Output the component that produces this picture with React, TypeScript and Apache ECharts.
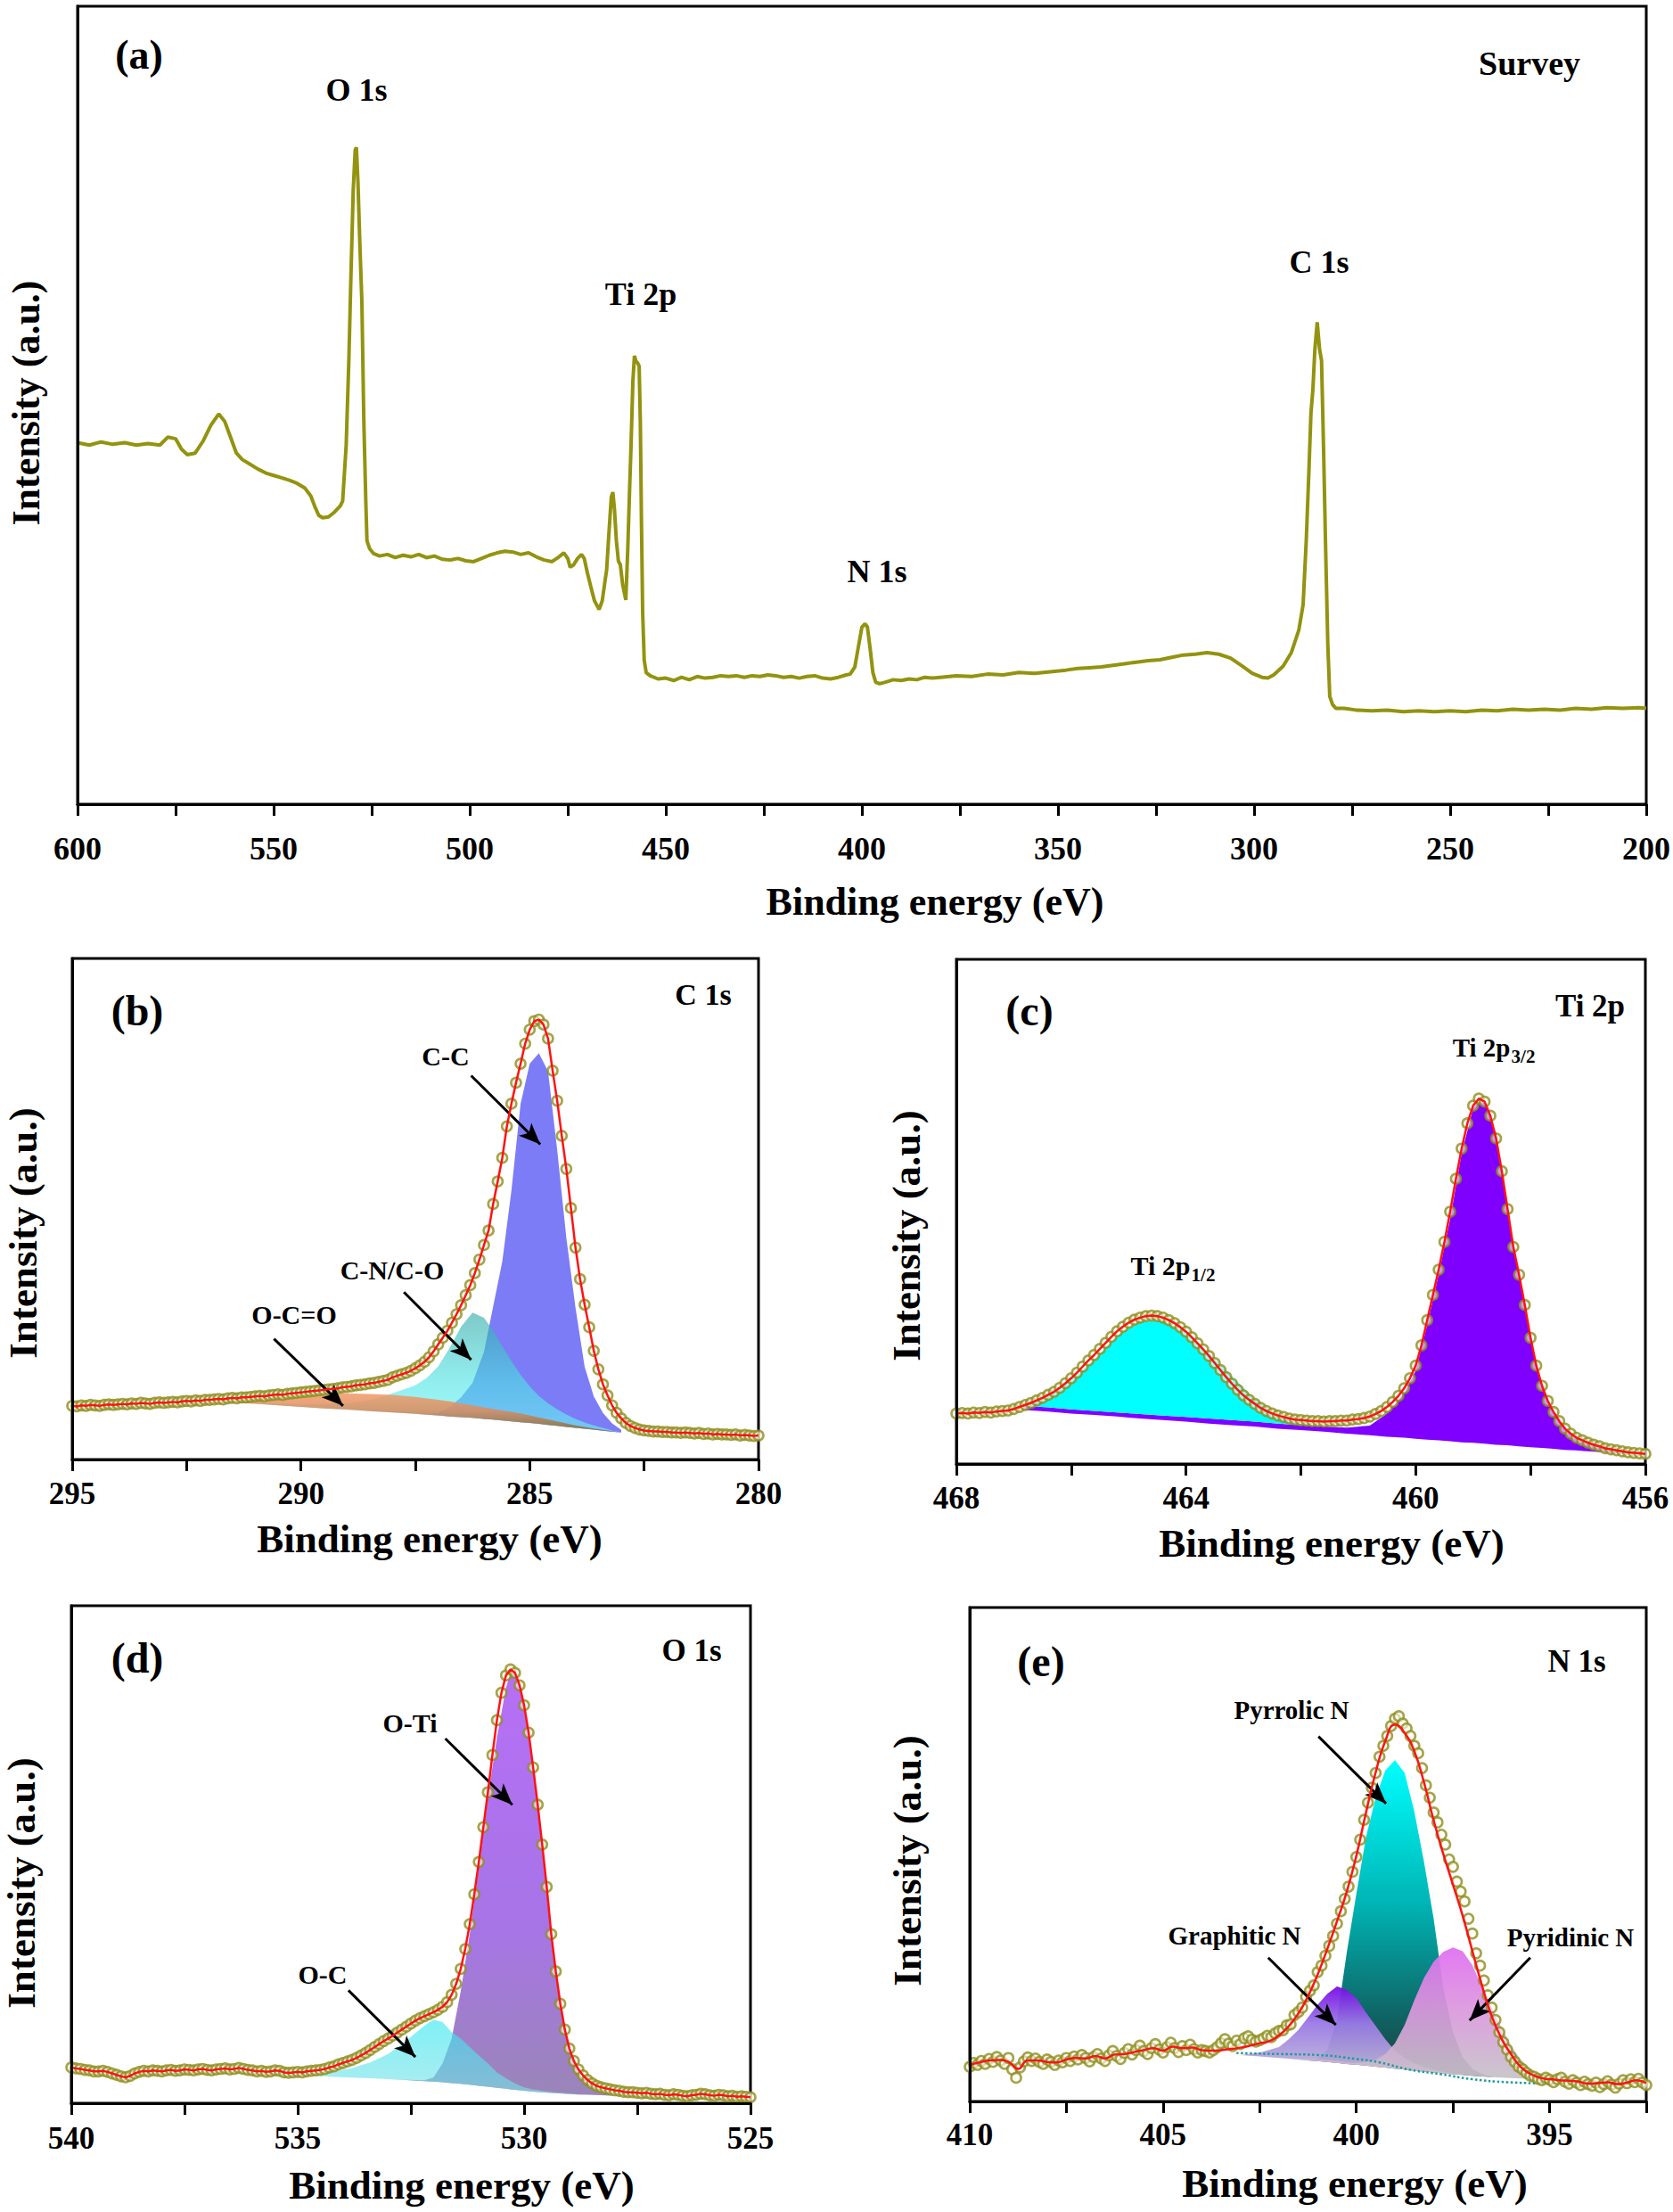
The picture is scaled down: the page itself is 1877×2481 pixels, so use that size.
import React, { useEffect, useRef } from 'react';
import * as echarts from 'echarts';

// ---------------- (a) Survey ----------------
const surveyEnergy = [600,597,594,591,588,585,582,579,577,575,573.5,572,570,568,566,564,562.5,561,559.5,558,556,554,552,550,548,546,544,542,540.5,539.5,538.5,537.5,536,534.5,533,532.4,531.5,530.8,530.3,529.7,529.2,528.9,528.5,528,527.5,527,526.5,526.2,525.5,524.5,523,521,519,517,515,513,511,509,507,505,503,501,499,497,495,493,491,489,487,485,483,481,479,477.5,476,475,474.4,473.5,472.5,471.5,470.8,470,469.2,468.2,467,466.2,465.5,465.1,464.5,463.9,463.5,463.1,462.6,462.1,461.6,461,460.2,459.7,459.2,458.9,458.4,458,457.6,457.2,456.8,456.5,456.2,455.9,455.5,455,454,452,450,448,446,444,442,440,438,436,434,432,430,428,426,424,422,420,418,416,414,412,410,408,406,404,403,401.8,400.8,400,399.2,398.6,397.9,397.2,396.5,395.5,394,392,390,388,386,384,382,380,376,372,368,364,360,356,352,348,345,342,339,336,333,330,327,324,321,318,315,312,309,306,303,300.5,298,296.5,295,292.6,290.5,288.6,287.5,286.7,286,285.5,285,284.5,283.9,283.3,282.8,282.3,281.8,281.2,280.7,280,279.1,277,274,270,266,262,258,254,250,246,242,238,234,230,226,222,218,214,210,206,202,200];
const surveyIntensity = [45.3,45.0,45.4,45.1,45.3,45.0,45.2,45.0,46.0,45.8,44.5,43.8,44.0,45.5,47.5,48.9,48.0,46.0,44.0,43.2,42.6,42.0,41.5,41.2,40.9,40.6,40.2,39.6,38.6,37.3,36.2,35.9,36.0,36.6,37.4,38.0,45,56,66,77,82,82.3,78,70,63,48,38,33,32,31.4,31.1,31.3,30.9,31.2,31.0,31.3,30.9,31.1,30.7,30.6,30.8,30.5,30.4,30.8,31.2,31.5,31.7,31.6,31.3,31.5,31.0,30.6,30.4,30.9,31.5,30.8,29.7,30.0,30.8,31.3,30.8,29.0,27.4,25.5,24.4,25.5,28,29.3,34,38.5,39.1,37,33,30.5,30.0,27.5,25.6,32,40,44.4,53,56.2,55.5,55.3,54.9,48,35,24,18,16.5,16.1,15.7,15.8,15.5,15.9,15.6,16.0,15.8,15.9,16.1,16.0,16.1,15.9,16.1,16.0,16.2,16.1,15.9,16.0,15.8,16.0,16.1,15.8,15.7,15.9,16.2,16.3,17.2,20.0,22.2,22.6,22.2,19.5,16.5,15.3,15.1,15.3,15.6,15.5,15.7,15.6,15.9,15.8,15.9,16.1,16.0,16.3,16.2,16.5,16.4,16.6,16.8,17.0,17.1,17.2,17.4,17.6,17.8,18.0,18.1,18.4,18.7,18.8,19.0,18.8,18.3,17.3,16.4,15.9,15.8,16.2,17.3,19.0,21.8,25,33,42,49,52,57,60.4,57,55.6,45,33,20,13.5,12.5,12.0,12.0,11.8,11.7,11.8,11.6,11.7,11.6,11.7,11.6,11.8,11.7,11.9,11.8,11.9,11.8,12.0,11.9,12.1,12.0,12.1,12.0];

// ---------------- (b) C 1s ----------------
const c1sStart = 295, c1sStep = 0.1;
const c1sExp = [
10.7,10.6,10.8,10.7,10.9,10.8,10.7,10.9,11.0,10.9,
11.0,11.1,11.0,11.2,11.1,11.3,11.2,11.1,11.3,11.4,
11.3,11.4,11.5,11.4,11.6,11.7,11.6,11.8,11.7,11.9,
11.9,12.0,12.1,12.0,12.2,12.3,12.2,12.4,12.4,12.5,
12.6,12.7,12.6,12.8,12.9,13.0,12.9,13.1,13.2,13.3,
13.4,13.5,13.6,13.7,13.8,13.9,14.0,14.1,14.2,14.4,
14.5,14.6,14.8,14.9,15.0,15.2,15.3,15.5,15.7,15.9,
16.4,16.7,17.0,17.3,17.7,18.2,18.8,19.5,20.4,21.6,
23.0,24.3,25.7,27.3,29.0,30.8,32.8,34.8,37.2,39.9,
42.8,45.7,51.0,55.5,60.2,66.5,71.0,75.2,79.0,83.0,
85.8,87.5,87.8,86.8,84.0,77.6,71.6,64.6,58.0,50.2,
42.3,36.0,30.9,26.4,21.7,18.0,15.0,12.8,10.8,9.3,
8.2,7.3,6.7,6.3,6.0,5.8,5.7,5.6,5.6,5.5,
5.5,5.4,5.4,5.3,5.4,5.3,5.2,5.3,5.1,5.2,
5.0,5.1,5.0,5.0,4.9,5.0,4.8,4.9,4.8,4.7,
4.8];
const c1sCompX = [292,291.5,291,290.5,290,289.5,289,288.5,288,287.5,287.25,287,286.75,286.5,286.25,286,285.8,285.6,285.4,285.2,285,284.8,284.6,284.4,284.2,284,283.8,283.6,283.4,283.2,283];
const c1sBase = [11.7,11.4,11.1,10.8,10.5,10.2,9.95,9.65,9.4,9.1,8.95,8.8,8.6,8.45,8.3,8.1,7.95,7.8,7.6,7.45,7.3,7.1,6.9,6.7,6.5,6.3,6.15,5.95,5.75,5.55,5.4];
const c1sCC = [11.7,11.4,11.1,10.8,10.5,10.2,9.95,9.65,9.4,9.1,9.0,9.3,10.5,12.4,15.3,21.5,30.5,39.5,53.7,71.0,79.0,81.1,77.5,61.8,44.2,30.3,18.5,12.6,9.3,7.2,5.9];
const c1sCN = [11.7,11.45,11.25,11.1,11.0,11.0,11.2,11.8,13.2,14.8,16.3,18.6,22.3,26.5,29.3,28.3,25.7,22.6,19.6,16.9,14.6,12.7,11.2,10.0,9.0,8.1,7.4,6.8,6.3,5.8,5.4];
const c1sOCO = [11.7,12.1,12.5,12.8,13.0,13.2,13.2,13.1,12.9,12.5,12.2,11.9,11.6,11.2,10.8,10.4,10.1,9.8,9.5,9.2,8.8,8.4,8.0,7.6,7.2,6.8,6.5,6.2,5.9,5.65,5.4];
const c1sArrows = [[[286.28,76.6],[284.77,62.9]],[[287.75,33.4],[286.28,19.9]],[[290.59,24.1],[289.08,10.7]]];

// ---------------- (c) Ti 2p ----------------
const ti2pStart = 468, ti2pStep = 0.1;
const ti2pExp = [
10.0,10.1,10.0,10.2,10.1,10.3,10.2,10.4,10.5,10.6,
10.9,11.3,11.7,12.1,12.6,13.1,13.7,14.3,15.1,16.0,
17.0,18.1,19.3,20.5,21.6,22.8,24.0,25.2,26.3,27.2,
28.0,28.6,29.0,29.3,29.4,29.3,29.0,28.5,27.9,27.1,
26.2,25.1,23.9,22.7,21.4,20.0,18.6,17.2,15.9,14.7,
13.6,12.7,11.9,11.1,10.5,10.0,9.6,9.3,9.0,8.8,
8.7,8.6,8.5,8.5,8.4,8.5,8.5,8.6,8.6,8.8,
8.9,9.1,9.4,9.9,10.5,11.3,12.3,13.5,15.0,17.0,
19.5,23.5,28.5,33.5,38.5,44.0,50.0,56.5,62.5,67.5,
71.0,72.4,71.8,69.0,64.5,58.0,50.5,43.0,37.5,31.5,
25.0,19.5,15.5,12.5,10.3,8.5,7.0,6.0,5.2,4.7,
4.2,3.8,3.5,3.1,2.9,2.7,2.5,2.3,2.2,2.1,
2.0];
const ti2pCompX = [466.8,466.4,466.0,465.6,465.2,464.8,464.4,464.0,463.6,463.2,462.8,462.4,462.0,461.6,461.2,460.8,460.5,460.2,460.0,459.8,459.6,459.4,459.2,459.0,458.9,458.8,458.6,458.4,458.2,458.0,457.8,457.6,457.4,457.2,457.0,456.6,456.3];
const ti2pBase = [10.7,10.4,10.0,9.7,9.4,9.0,8.7,8.4,8.0,7.7,7.4,7.0,6.7,6.4,6.0,5.7,5.4,5.2,5.0,4.8,4.7,4.5,4.3,4.2,4.1,4.0,3.8,3.7,3.5,3.3,3.2,3.0,2.8,2.7,2.5,2.2,2.0];
const ti2p32 = [11.5,11.2,10.8,10.5,10.2,9.9,9.6,9.3,9.0,8.7,8.4,8.0,7.7,7.4,7.2,7.6,10.0,14.0,18.5,27.5,37.5,48.5,61.5,70.5,71.8,71.5,65.5,50.5,37.5,24.5,15.2,10.3,6.8,5.0,4.0,2.8,2.2];
const ti2p12X = [466.8,466.4,466.0,465.6,465.2,464.8,464.4,464.0,463.6,463.2,462.8,462.4,462.0,461.6];
const ti2p12 = [11.5,13.6,16.7,20.7,25.4,28.2,28.4,26.2,22.0,17.3,12.8,9.4,7.9,7.4];
const ti2p12Bottom = [11.5,11.2,10.8,10.5,10.2,9.9,9.6,9.3,9.0,8.7,8.4,8.0,7.7,7.4];

// ---------------- (d) O 1s ----------------
const o1sStart = 540, o1sStep = 0.1;
const o1sExp = [
7.2,7.0,6.9,6.7,6.6,6.4,6.4,6.5,6.3,6.0,
5.7,5.4,5.2,5.5,6.0,6.3,6.5,6.4,6.6,6.5,
6.4,6.6,6.7,6.5,6.6,6.8,6.7,6.6,6.8,6.9,
6.7,6.6,6.8,6.9,7.0,6.8,6.9,7.1,6.9,6.7,
6.6,6.4,6.5,6.3,6.4,6.6,6.5,6.2,6.1,6.2,
6.3,6.2,6.4,6.5,6.6,6.7,6.9,7.2,7.4,7.8,
8.1,8.4,8.7,9.1,9.6,10.1,10.7,11.3,11.9,12.5,
13.0,13.6,14.2,14.8,15.4,16.0,16.6,17.1,17.5,17.9,
18.3,18.8,19.4,20.3,21.8,24.0,27.0,31.0,36.0,42.0,
48.5,55.5,62.5,70.0,77.0,82.5,86.0,87.2,86.5,84.0,
80.0,74.5,67.5,60.0,52.0,43.5,34.0,26.5,20.0,14.8,
11.0,8.5,6.8,5.6,4.7,4.0,3.5,3.2,3.0,2.8,
2.6,2.5,2.3,2.2,2.2,2.1,2.0,2.1,1.9,1.8,
1.9,1.7,1.6,1.8,1.7,1.5,1.4,1.6,1.7,1.9,
1.8,1.6,1.5,1.7,1.6,1.4,1.5,1.3,1.4,1.3,
1.2];
const o1sCompX = [535.0,534.6,534.2,533.8,533.4,533.0,532.6,532.2,532.0,531.8,531.6,531.4,531.2,531.0,530.8,530.6,530.4,530.3,530.2,530.0,529.8,529.6,529.4,529.2,529.0,528.8,528.6,528.3,528.0];
const o1sBase = [5.6,5.5,5.3,5.15,5.0,4.85,4.65,4.45,4.35,4.2,4.05,3.9,3.7,3.5,3.3,3.1,2.9,2.8,2.7,2.5,2.35,2.2,2.05,1.95,1.85,1.75,1.7,1.6,1.5];
const o1sOTi = [5.6,5.5,5.3,5.15,5.0,4.85,4.7,4.6,5.2,8.0,13.0,22.5,34.0,47.5,61.5,73.5,83.5,86.5,86.3,80.0,67.0,51.5,34.0,19.5,10.5,6.0,3.9,2.3,1.5];
const o1sOC = [5.6,5.9,6.4,7.1,8.2,9.9,12.6,15.6,16.8,16.3,14.3,13.0,11.3,9.6,8.0,6.2,5.0,4.5,4.0,3.2,2.8,2.5,2.3,2.1,1.95,1.8,1.7,1.6,1.5];
const o1sArrows = [[[531.74,73.3],[530.26,60.0]],[[533.88,22.7],[532.4,9.3]]];

// ---------------- (e) N 1s ----------------
const n1sStart = 410, n1sStep = 0.1;
const n1sExp = [
7.0,7.8,7.4,8.2,7.6,8.6,8.0,9.0,8.3,7.6,
8.8,6.5,4.8,6.9,8.1,8.9,8.2,8.7,8.0,7.6,
8.5,8.0,7.4,8.3,7.9,8.8,8.2,9.1,8.5,9.4,
8.8,8.1,9.0,9.6,8.7,8.2,9.3,10.2,9.2,8.6,
9.8,10.6,9.5,10.4,11.3,10.2,9.6,10.8,11.6,10.5,
9.9,11.0,11.9,10.8,10.0,11.2,10.4,11.5,10.6,9.9,
10.4,10.2,9.9,10.4,11.0,11.8,12.6,11.7,11.2,12.3,
11.6,12.8,13.2,12.5,12.1,12.4,12.8,13.3,13.0,13.8,
14.3,14.4,15.4,15.6,17.5,18.1,19.0,21.2,22.4,23.5,
26.2,27.5,29.5,31.5,33.5,36.0,38.5,41.0,43.5,46.5,
49.5,53.0,57.0,60.5,63.5,66.5,69.8,72.0,74.0,76.0,
77.5,78.0,76.5,75.5,74.0,72.0,70.5,67.5,64.0,61.5,
58.5,56.5,54.0,52.0,49.0,47.5,44.5,42.5,40.5,37.0,
34.0,30.0,27.5,24.5,21.5,19.0,16.5,14.0,12.0,10.5,
9.0,8.0,7.0,6.5,5.8,5.2,5.0,4.6,4.3,4.8,
4.4,3.9,4.5,4.8,4.0,3.6,4.3,3.8,3.3,4.0,
3.5,3.2,3.8,2.9,3.5,4.1,3.4,2.8,3.6,4.3,
3.7,4.5,3.9,4.6,3.8,3.3];
const n1sFitStart = 410, n1sFitStep = 0.25;
const n1sFit = [7.4,7.9,8.3,8.4,8.0,6.6,8.3,8.3,8.0,7.9,8.5,8.8,8.7,9.2,8.7,9.5,9.6,10.0,10.4,10.8,10.3,11.1,10.8,10.9,10.4,10.3,10.4,10.6,10.9,11.3,11.8,12.2,13.4,15.2,17.8,21.3,25.7,30.9,36.5,42.4,49.7,58.5,66.6,73.0,76.3,74.6,70.9,64.6,56.9,50.1,43.9,37.6,30.5,23.5,17.3,12.8,9.6,7.0,5.6,4.8,4.5,4.3,4.2,4.0,3.6,3.7,3.9,3.5,3.8,4.3,3.7];
const n1sCompX = [403,402.5,402,401.75,401.5,401.25,401,400.75,400.5,400.25,400,399.75,399.5,399.25,399,398.75,398.5,398.25,398,397.75,397.5,397.25,397,396.75,396.5,396.25,396,395.75,395.5,395.25,395];
const n1sBase = [9.4,9.1,8.8,8.65,8.5,8.3,8.15,8.0,7.8,7.6,7.45,7.25,7.05,6.85,6.65,6.45,6.25,6.05,5.85,5.7,5.5,5.35,5.2,5.05,4.95,4.85,4.75,4.65,4.6,4.55,4.5];
const n1sPyrrolic = [9.4,9.1,8.8,8.65,8.5,8.3,8.6,10.5,16.5,30.0,42.0,53.5,61.5,67.0,69.1,66.5,58.7,48.5,37.0,23.0,14.0,9.0,6.6,5.6,5.0,4.85,4.75,4.65,4.6,4.55,4.5];
const n1sGraphitic = [9.4,9.9,11.0,12.6,14.5,17.0,19.6,21.8,23.3,22.6,20.9,18.0,15.3,12.6,10.3,8.8,7.7,7.0,6.4,6.0,5.7,5.4,5.2,5.05,4.95,4.85,4.75,4.65,4.6,4.55,4.5];
const n1sPyridinic = [9.4,9.1,8.8,8.65,8.6,8.6,8.5,8.4,8.2,7.9,7.8,8.0,8.4,9.6,11.8,15.5,20.5,25.0,28.3,30.3,31.2,30.4,27.6,23.2,19.0,15.0,11.3,8.5,6.6,5.5,4.5];
const n1sDotX = [403.1,402,401,400,399.4,398.6,397.8,397,396.1,394.9];
const n1sDot = [9.8,9.6,9.4,8.6,7.9,6.4,5.5,4.5,3.9,3.6];
const n1sArrows = [[[400.98,73.9],[399.23,60.3]],[[402.28,29.1],[400.53,15.5]],[[395.5,29.1],[397.07,16.4]]];

// ---------------- axes ticks ----------------
const axisRanges = [
  { min: 200, max: 600, interval: 25, labelEvery: 50 },
  { min: 280, max: 295, interval: 2.5, labelEvery: 5 },
  { min: 456, max: 468, interval: 2, labelEvery: 4 },
  { min: 525, max: 540, interval: 2.5, labelEvery: 5 },
  { min: 392.5, max: 410, interval: 2.5, labelEvery: 5 },
];

const FONT = '"Liberation Serif", "Times New Roman", serif';

function grid(start: number, step: number, n: number) {
  const xs: number[] = [];
  for (let i = 0; i < n; i++) xs.push(Math.round((start - i * step) * 1000) / 1000);
  return xs;
}
function pairs(xs: number[], ys: number[]) {
  return xs.map((x, i) => [x, ys[i]]);
}

function grad(stops: [number, string][]) {
  return new echarts.graphic.LinearGradient(0, 0, 0, 1, stops.map(([offset, color]) => ({ offset, color })));
}

function poly(axis: number, xs: number[], tops: number[], bottoms: number[], fill: any, opacity: number, z = 1) {
  return {
    type: 'custom',
    xAxisIndex: axis,
    yAxisIndex: axis,
    coordinateSystem: 'cartesian2d',
    silent: true,
    z,
    data: [[xs[0], bottoms[0]]],
    renderItem: (_params: any, api: any) => {
      const pts: number[][] = [];
      for (let k = 0; k < xs.length; k++) pts.push(api.coord([xs[k], tops[k]]));
      for (let k = xs.length - 1; k >= 0; k--) pts.push(api.coord([xs[k], bottoms[k]]));
      return { type: 'polygon', shape: { points: pts }, style: { fill, opacity } };
    },
  };
}

function scatter(axis: number, data: number[][]) {
  return {
    type: 'scatter',
    xAxisIndex: axis,
    yAxisIndex: axis,
    data,
    symbol: 'circle',
    symbolSize: 11,
    silent: true,
    z: 4,
    itemStyle: { color: 'rgba(255,255,245,0.75)', borderColor: '#8d8d1e', borderWidth: 2.6 },
  };
}

function redLine(axis: number, data: number[][], arrows: number[][][] | null, smooth = false) {
  const s: any = {
    type: 'line',
    xAxisIndex: axis,
    yAxisIndex: axis,
    data,
    symbol: 'none',
    showSymbol: false,
    smooth,
    silent: true,
    z: 5,
    lineStyle: { color: '#ff1212', width: 2.5 },
  };
  if (arrows) {
    s.markLine = {
      silent: true,
      animation: false,
      symbol: ['none', 'arrow'],
      symbolSize: [15, 24],
      lineStyle: { color: '#000', width: 3, type: 'solid' },
      label: { show: false },
      data: arrows.map(([a, b]) => [{ coord: a }, { coord: b }]),
    };
  }
  return s;
}

function txt(text: string, x: number, y: number, size: number, rot = 0) {
  return {
    type: 'text',
    x,
    y,
    rotation: rot,
    silent: true,
    z: 100,
    style: {
      text,
      fill: '#000',
      font: `bold ${size}px ${FONT}`,
      align: 'center',
      verticalAlign: 'middle',
      textAlign: 'center',
      textVerticalAlign: 'middle',
    },
  };
}

function buildOption() {
  const grids = [
    { left: 87, top: 7, width: 1765, height: 895 },
    { left: 81, top: 1075, width: 770, height: 562 },
    { left: 1073, top: 1076, width: 773, height: 566 },
    { left: 80, top: 1801, width: 762, height: 558 },
    { left: 1088, top: 1803, width: 759, height: 554 },
  ].map((g) => ({ ...g, show: true, borderColor: '#000', borderWidth: 3, backgroundColor: 'transparent', containLabel: false }));

  const labelSizes = [36, 35, 35, 35, 35];
  const margins = [32, 21, 21, 22, 20];
  const xAxis = axisRanges.map((r, i) => ({
    gridIndex: i,
    type: 'value',
    inverse: true,
    min: r.min,
    max: r.max,
    interval: r.interval,
    z: 10,
    axisLine: { show: true, onZero: false, lineStyle: { color: '#000', width: 3 } },
    axisTick: { show: true, inside: false, length: 13, lineStyle: { color: '#000', width: 3 } },
    splitLine: { show: false },
    axisLabel: {
      show: true,
      margin: margins[i],
      color: '#000',
      fontFamily: FONT,
      fontWeight: 'bold',
      fontSize: labelSizes[i],
      showMinLabel: true,
      showMaxLabel: true,
      formatter: (v: number) => {
        const q = v / r.labelEvery;
        return Math.abs(q - Math.round(q)) < 1e-6 ? String(Math.round(v * 10) / 10) : '';
      },
    },
  }));
  const yAxis = axisRanges.map((_r, i) => ({
    gridIndex: i,
    type: 'value',
    min: 0,
    max: 100,
    z: 10,
    axisLine: { show: true, onZero: false, lineStyle: { color: '#000', width: 3 } },
    axisTick: { show: false },
    axisLabel: { show: false },
    splitLine: { show: false },
  }));

  const c1sX = grid(c1sStart, c1sStep, c1sExp.length);
  const tiX = grid(ti2pStart, ti2pStep, ti2pExp.length);
  const o1sX = grid(o1sStart, o1sStep, o1sExp.length);
  const n1sX = grid(n1sStart, n1sStep, n1sExp.length);
  const n1sFitX = grid(n1sFitStart, n1sFitStep, n1sFit.length);

  const series: any[] = [
    // (a)
    {
      type: 'line',
      xAxisIndex: 0,
      yAxisIndex: 0,
      data: pairs(surveyEnergy, surveyIntensity),
      symbol: 'none',
      showSymbol: false,
      silent: true,
      z: 3,
      lineStyle: { color: '#939310', width: 4 },
    },
    // (b)
    poly(1, c1sCompX, c1sCC, c1sBase, '#7c7cf6', 1),
    poly(1, c1sCompX, c1sCN, c1sBase, grad([[0, '#2fa8a8'], [0.6, '#4fe6e6'], [1, '#6ff5f5']]), 0.62),
    poly(1, c1sCompX, c1sOCO, c1sBase, grad([[0, '#f29a68'], [0.45, '#d98a5c'], [1, '#7a6838']]), 0.85),
    scatter(1, pairs(c1sX, c1sExp)),
    redLine(1, pairs(c1sX, c1sExp), c1sArrows),
    // (c)
    poly(2, ti2pCompX, ti2p32, ti2pBase, '#7f00ff', 1),
    poly(2, ti2p12X, ti2p12, ti2p12Bottom, '#00ffff', 1),
    scatter(2, pairs(tiX, ti2pExp)),
    redLine(2, pairs(tiX, ti2pExp), null),
    // (d)
    poly(3, o1sCompX, o1sOTi, o1sBase, grad([[0, '#b66ff6'], [0.6, '#a774e6'], [1, '#9a86b8']]), 1),
    poly(3, o1sCompX, o1sOC, o1sBase, grad([[0, '#30e8f0'], [1, '#7fe0e6']]), 0.62),
    scatter(3, pairs(o1sX, o1sExp)),
    redLine(3, pairs(o1sX, o1sExp), o1sArrows),
    // (e)
    poly(4, n1sCompX, n1sPyrrolic, n1sBase, grad([[0, '#00ffff'], [0.45, '#00b4b4'], [0.8, '#0f6464'], [1, '#203c3c']]), 1),
    poly(4, n1sCompX, n1sGraphitic, n1sBase, grad([[0, '#780ae6'], [0.4, '#9a7ae6'], [1, '#c6c2d4']]), 0.95),
    poly(4, n1sCompX, n1sPyridinic, n1sBase, grad([[0, '#e06ef2'], [0.45, '#dc96de'], [1, '#c6c3c8']]), 0.93),
    {
      type: 'line',
      xAxisIndex: 4,
      yAxisIndex: 4,
      data: pairs(n1sDotX, n1sDot),
      symbol: 'none',
      smooth: true,
      silent: true,
      z: 3,
      lineStyle: { color: '#1f9b9b', width: 2.5, type: 'dotted' },
    },
    scatter(4, pairs(n1sX, n1sExp)),
    redLine(4, pairs(n1sFitX, n1sFit), n1sArrows, true),
  ];

  const graphic = [
    // (a)
    txt('(a)', 156, 61, 46),
    txt('Survey', 1716, 71, 38),
    txt('O 1s', 400, 101, 36),
    txt('Ti 2p', 719, 330, 36),
    txt('N 1s', 984, 641, 36),
    txt('C 1s', 1480, 294, 36),
    txt('Intensity (a.u.)', 29, 452, 44, Math.PI / 2),
    txt('Binding energy (eV)', 1049, 1011, 44),
    // (b)
    txt('(b)', 154, 1133, 48),
    txt('C 1s', 789, 1115, 34),
    txt('C-C', 500, 1184, 30),
    txt('C-N/C-O', 440, 1424, 30),
    txt('O-C=O', 330, 1474, 30),
    txt('Intensity (a.u.)', 26, 1383, 45, Math.PI / 2),
    txt('Binding energy (eV)', 482, 1726, 45),
    // (c)
    txt('(c)', 1155, 1133, 48),
    txt('Ti 2p', 1784, 1128, 35),
    txt('Ti 2p', 1662, 1175, 29),
    txt('3/2', 1709, 1185, 21),
    txt('Ti 2p', 1302, 1419, 30),
    txt('1/2', 1350, 1430, 21),
    txt('Intensity (a.u.)', 1017, 1386, 45, Math.PI / 2),
    txt('Binding energy (eV)', 1494, 1731, 45),
    // (d)
    txt('(d)', 154, 1859, 48),
    txt('O 1s', 776, 1851, 35),
    txt('O-Ti', 460, 1932, 30),
    txt('O-C', 362, 2214, 30),
    txt('Intensity (a.u.)', 24, 2112, 45, Math.PI / 2),
    txt('Binding energy (eV)', 518, 2451, 45),
    // (e)
    txt('(e)', 1168, 1863, 48),
    txt('N 1s', 1769, 1863, 35),
    txt('Pyrrolic N', 1449, 1918, 29),
    txt('Graphitic N', 1385, 2171, 29),
    txt('Pyridinic N', 1762, 2173, 29),
    txt('Intensity (a.u.)', 1018, 2087, 45, Math.PI / 2),
    txt('Binding energy (eV)', 1520, 2449, 45),
  ];

  return {
    animation: false,
    backgroundColor: '#ffffff',
    grid: grids,
    xAxis,
    yAxis,
    series,
    graphic,
  };
}

export default function App() {
  const ref = useRef<HTMLDivElement>(null);
  useEffect(() => {
    document.body.style.margin = '0';
    const chart = echarts.init(ref.current as HTMLDivElement, null, { renderer: 'svg' });
    chart.setOption(buildOption() as any);
    return () => {
      chart.dispose();
    };
  }, []);
  return <div ref={ref} style={{ width: 1877, height: 2481 }} />;
}
